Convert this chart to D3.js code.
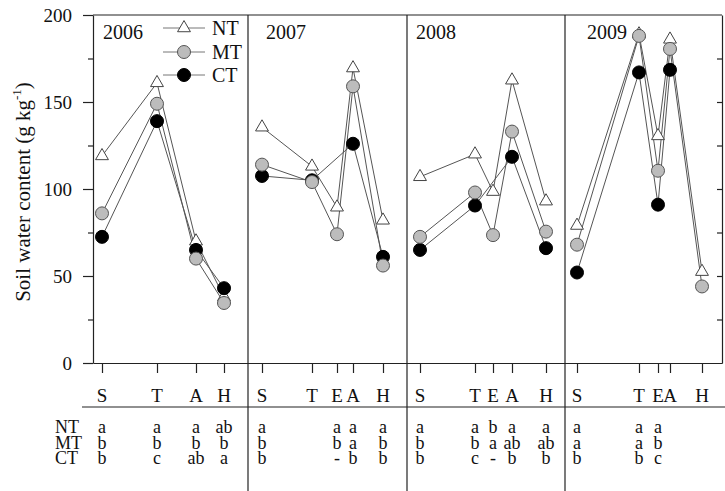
<!DOCTYPE html>
<html>
<head>
<meta charset="utf-8">
<script src="https://cdn.jsdelivr.net/npm/d3@7/dist/d3.min.js"></script>
<style>
  html, body { margin: 0; padding: 0; background: #fff; }
  svg text { font-family: "Liberation Serif", "Times New Roman", "DejaVu Serif", serif; }
</style>
</head>
<body>
<svg id="chart" width="725" height="491"></svg>
<script>
// Seasons shown as panels; x is a running day count across the four panels
const years = ["2006", "2007", "2008", "2009"];
const panelStartDay = [0, 155, 314, 472];
const lastDay = 629;

// Sampling stages and their day positions per season
const stages2006 = ["S", "T", "A", "H"];
const stages2007 = ["S", "T", "E", "A", "H"];
const stages2008 = ["S", "T", "E", "A", "H"];
const stages2009 = ["S", "T", "E", "A", "H"];
const days2006 = [9, 64, 103, 131];
const days2007 = [169, 219, 244, 260, 290];
const days2008 = [327, 382, 400, 419, 453];
const days2009 = [484, 546, 565, 577, 609];

// Soil water content (g kg-1); null = not measured
const nt2006 = [119, 161, 70, 38];
const mt2006 = [86, 149, 60, 34.5];
const ct2006 = [72.5, 139, 65, 43];
const nt2007 = [135.5, 113, 89.5, 169.5, 82];
const mt2007 = [114, 104, 74, 159, 56];
const ct2007 = [107.5, 105, null, 126, 61];
const nt2008 = [107, 120, 98.5, 162.5, 93];
const mt2008 = [72.5, 98, 73.5, 133, 75.5];
const ct2008 = [65, 90.5, null, 118.5, 66];
const nt2009 = [79, 189, 130.5, 186, 52.5];
const mt2009 = [68, 188, 110.5, 180.5, 44];
const ct2009 = [52, 167, 91, 168.5, null];

// Significance letters (rows: NT, MT, CT)
const treatments = ["NT", "MT", "CT"];
const letters2006 = [["a", "a", "a", "ab"], ["b", "b", "b", "b"], ["b", "c", "ab", "a"]];
const letters2007 = [["a", "", "a", "a", "a"], ["b", "", "b", "a", "b"], ["b", "", "-", "b", "b"]];
const letters2008 = [["a", "a", "b", "a", "a"], ["b", "b", "a", "ab", "ab"], ["b", "c", "-", "b", "b"]];
const letters2009 = [["a", "a", "a", "", ""], ["a", "a", "b", "", ""], ["b", "b", "c", "", ""]];

const yTicks = [0, 50, 100, 150, 200];
const yMinorTicks = [25, 75, 125, 175];

const seasons = [
  { stages: stages2006, days: days2006, values: [nt2006, mt2006, ct2006], letters: letters2006 },
  { stages: stages2007, days: days2007, values: [nt2007, mt2007, ct2007], letters: letters2007 },
  { stages: stages2008, days: days2008, values: [nt2008, mt2008, ct2008], letters: letters2008 },
  { stages: stages2009, days: days2009, values: [nt2009, mt2009, ct2009], letters: letters2009 }
];

const FONT = "Liberation Serif, Times New Roman, DejaVu Serif, serif";
const svg = d3.select("#chart").attr("font-family", FONT);
const plotL = 93, plotR = 722, plotT = 15, plotB = 363;
const x = d3.scaleLinear().domain([0, lastDay]).range([plotL, plotR]);
const y = d3.scaleLinear().domain([0, 200]).range([plotB, plotT]);
const axisColor = "#222";

// Left axis with major and minor ticks
const gL = svg.append("g").attr("transform", `translate(${plotL},0)`)
  .call(d3.axisLeft(y).tickValues(yTicks).tickSize(10).tickSizeOuter(0).tickPadding(11));
gL.attr("font-family", FONT);
gL.selectAll("text").attr("font-size", 19).attr("fill", "#111");
const gLm = svg.append("g").attr("transform", `translate(${plotL},0)`)
  .call(d3.axisLeft(y).tickValues(yMinorTicks).tickSize(5).tickSizeOuter(0).tickFormat(""));
gLm.select(".domain").remove();

// Right frame with inward ticks
svg.append("g").attr("transform", `translate(${plotR},0)`)
  .call(d3.axisLeft(y).tickValues([25, 50, 75, 100, 125, 150, 175]).tickSize(5).tickSizeOuter(0).tickFormat(""));

// Bottom axis: one tick per sampling date
const allDays = [].concat(days2006, days2007, days2008, days2009);
svg.append("g").attr("transform", `translate(0,${plotB})`)
  .call(d3.axisBottom(x).tickValues(allDays).tickSize(10).tickSizeOuter(0).tickFormat(""));

// Top frame
svg.append("line").attr("x1", plotL).attr("x2", plotR).attr("y1", plotT).attr("y2", plotT);

// Panel separators run through the table below
panelStartDay.slice(1).forEach(d => {
  svg.append("line").attr("x1", x(d)).attr("x2", x(d)).attr("y1", plotT).attr("y2", 491);
});

// Rule under the stage header row
svg.append("line").attr("x1", 82).attr("x2", 725).attr("y1", 407).attr("y2", 407);

svg.selectAll("line").attr("stroke", axisColor).attr("stroke-width", 1.2);
svg.selectAll(".domain, .tick line").attr("stroke", axisColor).attr("stroke-width", 1.2);

// Y title
const yTitle = svg.append("text")
  .attr("transform", `translate(30,192) rotate(-90)`)
  .attr("text-anchor", "middle").attr("font-size", 21).attr("fill", "#111");
yTitle.append("tspan").text("Soil water content (g kg");
yTitle.append("tspan").text("-1").attr("font-size", 13).attr("dy", -9);
yTitle.append("tspan").text(")").attr("dy", 9);

// Year labels
const yearOffset = [10, 18, 9, 22];
years.forEach((yr, i) => {
  svg.append("text").attr("x", x(panelStartDay[i]) + yearOffset[i]).attr("y", 39)
    .attr("font-size", 20).attr("fill", "#111").text(yr);
});

// Series styling (NT, MT, CT)
const styles = [
  { type: "tri", fill: "#fff", stroke: "#444" },
  { type: "circ", fill: "#bcbcbc", stroke: "#555" },
  { type: "circ", fill: "#000", stroke: "#000" }
];
const lineColor = "#555";
const triPath = d3.symbol().type(d3.symbolTriangle).size(72)();
const drawOrder = [0, 2, 1];

function drawMarker(g, s, cx, cy) {
  const st = styles[s];
  if (st.type === "tri") {
    g.append("path").attr("d", triPath).attr("transform", `translate(${cx},${cy})`)
      .attr("fill", st.fill).attr("stroke", st.stroke).attr("stroke-width", 1);
  } else {
    g.append("circle").attr("cx", cx).attr("cy", cy).attr("r", 6.5)
      .attr("fill", st.fill).attr("stroke", st.stroke).attr("stroke-width", 1);
  }
}

const line = d3.line().x(d => x(d.day)).y(d => y(d.v));
const gLines = svg.append("g");
const gMarks = svg.append("g");

seasons.forEach(season => {
  drawOrder.forEach(s => {
    const pts = season.days.map((day, i) => ({ day, v: season.values[s][i] })).filter(d => d.v != null);
    gLines.append("path").attr("d", line(pts)).attr("fill", "none")
      .attr("stroke", lineColor).attr("stroke-width", 1);
  });
});
drawOrder.forEach(s => {
  seasons.forEach(season => {
    season.days.forEach((day, i) => {
      const v = season.values[s][i];
      if (v != null) drawMarker(gMarks, s, x(day), y(v));
    });
  });
});

// Legend
const legendY = [28, 52, 75];
treatments.forEach((t, s) => {
  const ly = legendY[s];
  svg.append("line").attr("x1", 163).attr("x2", 205).attr("y1", ly).attr("y2", ly)
    .attr("stroke", "#777").attr("stroke-width", 1);
  drawMarker(svg, s, 184, ly);
  svg.append("text").attr("x", 212).attr("y", ly + 7).attr("font-size", 20).attr("fill", "#111").text(t);
});

// Stage header row
seasons.forEach(season => {
  season.stages.forEach((st, i) => {
    svg.append("text").attr("x", x(season.days[i])).attr("y", 402)
      .attr("text-anchor", "middle").attr("font-size", 19).attr("fill", "#111").text(st);
  });
});

// Significance table: each column is one text block with a line per treatment
const rowY = [433, 448.5, 464];
function column(xPos, entries, anchor) {
  const t = svg.append("text").attr("x", xPos).attr("y", rowY[0])
    .attr("text-anchor", anchor).attr("font-size", 18).attr("fill", "#111");
  entries.forEach((e, r) => {
    t.append("tspan").attr("x", xPos).attr("y", rowY[r]).text(e || "\u00a0");
  });
}
column(55, treatments, "start");
seasons.forEach(season => {
  season.days.forEach((day, i) => {
    const entries = treatments.map((_, r) => season.letters[r][i]);
    if (entries.some(e => e)) column(x(day), entries, "middle");
  });
});
</script>
</body>
</html>
